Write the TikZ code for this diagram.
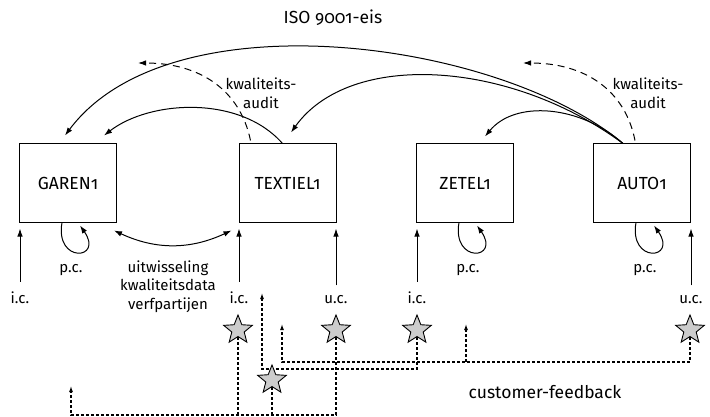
\documentclass[tikz,border=0pt]{standalone}
\usepackage{fontspec}
\setmainfont[Numbers = OldStyle]{Fira Sans}
\usepackage{tikz}
\usetikzlibrary{shapes, arrows.meta}
\usetikzlibrary{positioning, backgrounds}
\tikzstyle{box} = [rectangle, minimum width = 97, minimum height = 78, draw =
  black, line width = 1, text centered, font = \fontsize{17.5}{21}\selectfont]
\tikzstyle{lbl} = [inner sep = 0, font = \fontsize{15}{18.5}\selectfont]
\tikzstyle{fbstar} = [
  star, star points = 5, star point ratio = 2.3,
  minimum size = 30, inner sep = 0,
  draw = black, line width = 0.9, fill = gray!40
]
\tikzstyle{fb} = [dash pattern = on 3pt off 2pt, line width = 1.1,
  >={Latex[length = 6pt, width = 4pt]}]
\tikzstyle{audit} = [dash pattern = on 7pt off 5pt, line width = 1]

\begin{document}
\begin{tikzpicture}[x = 1pt, y = -1pt, node distance = 0, line width = 1,
    >={Latex[length = 8pt, width = 5.5pt]}]
      \useasboundingbox (0, 0) rectangle (710, 417);

      % the four parties
      \node [box] (box-garen) at (68, 183) {GAREN1};
      \node [box, right of = box-garen, xshift = 219.5] (box-textiel) {TEXTIEL1};
      \node [box, right of = box-textiel, xshift = 177.5] (box-zetel) {ZETEL1};
      \node [box, right of = box-zetel, xshift = 177] (box-auto) {AUTO1};

      \node [font = \fontsize{17.5}{21}\selectfont] (iso) at (333, 18) {ISO 9001-eis};

      % requirements passed down the chain
      \draw [->] ([xshift = -5]box-textiel.north) .. controls (240, 95) and (150, 100) ..
      ([xshift = 36, yshift = 8]box-garen.north);
      \draw [->] ([xshift = -19]box-auto.north) .. controls (500, 40) and (170, -5) ..
      ([xshift = -3, yshift = 8]box-garen.north);
      \draw [->] ([xshift = -19]box-auto.north) .. controls (510, 60) and (350, 50) ..
      ([xshift = 3.5, yshift = 11]box-textiel.north);
      \draw [->] ([xshift = -19]box-auto.north) .. controls (580, 105) and (515, 100) ..
      ([xshift = 20, yshift = 7]box-zetel.north);

      % audits
      \coordinate (audit-ti) at (138, 63);
      \coordinate (audit-au) at (523, 63);
      \draw [audit, ->] ([xshift = -37, yshift = 3]box-textiel.north) .. controls
      (240, 90) and (200, 63) .. (audit-ti);
      \draw [audit, ->] ([xshift = -7, yshift = 3]box-auto.north) .. controls
      (625, 90) and (585, 63) .. (audit-au);
      \node [lbl, align = center] (audit-lbl-ti) at (261, 93) {kwaliteits-\\audit};
      \node [lbl, align = center] (audit-lbl-au) at (648, 93) {kwaliteits-\\audit};

      % incoming and outgoing control
      \node [lbl, anchor = base] (ic-garen) at (20, 303) {i.c.};
      \node [lbl, anchor = base] (ic-textiel) at (239, 303) {i.c.};
      \node [lbl, anchor = base] (uc-textiel) at (336, 303) {u.c.};
      \node [lbl, anchor = base] (ic-zetel) at (417, 303) {i.c.};
      \node [lbl, anchor = base] (uc-auto) at (691, 303) {u.c.};
      \draw [->] ([yshift = 9]ic-garen.north) -- ([yshift = -6]ic-garen |- box-garen.south);
      \draw [->] ([yshift = 9]ic-textiel.north) -- ([yshift = -6]ic-textiel |- box-textiel.south);
      \draw [->] ([yshift = 9]uc-textiel.north) -- ([yshift = -6]uc-textiel |- box-textiel.south);
      \draw [->] ([yshift = 9]ic-zetel.north) -- ([yshift = -6]ic-zetel |- box-zetel.south);
      \draw [->] ([yshift = 9]uc-auto.north) -- ([yshift = -6]uc-auto |- box-auto.south);

      % process control
      \foreach \b in {garen, zetel, auto} {
        \draw [->] ([xshift = -6]box-\b.south) to [out = -100, in = -55, distance = 42]
        ([xshift = 12, yshift = -3]box-\b.south);
        \node [lbl, anchor = base] (pc-\b) at ([xshift = 3, yshift = -50]box-\b.south) {p.c.};
      }

      % exchange between the paint suppliers
      \draw [<->] ([xshift = -3, yshift = -8]box-garen.south east) to [bend right = 25]
      ([xshift = -7, yshift = -8]box-textiel.south west);
      \node [lbl, align = center, anchor = north] (uitw) at (168, 260)
      {uitwisseling\\kwaliteitsdata\\verfpartijen};

      % customer feedback
      \node [fbstar] (star-ti-ic) at (238, 330) {};
      \node [fbstar] (star-ti-uc) at (336, 330) {};
      \node [fbstar] (star-ze-ic) at (417, 330) {};
      \node [fbstar] (star-au-uc) at (690, 330) {};
      \node [fbstar] (star-mid) at (272, 380) {};
      \node [font = \fontsize{17.5}{21}\selectfont] (feedback) at (545, 392) {customer-feedback};

      \coordinate (tip-garen) at (71, 386);
      \coordinate (tip-ti-a) at (262, 293);
      \coordinate (tip-ti-b) at (282, 324);
      \coordinate (tip-ze) at (466, 324);
      \coordinate (fb-low) at (71, 415);
      \coordinate (fb-mid) at (262, 369);
      \coordinate (fb-high) at (282, 362);
      \begin{scope}[on background layer]
        \draw [fb, ->] (star-ti-uc) |- (fb-low) -- (tip-garen);
        \draw [fb] (star-ti-ic) -- (star-ti-ic |- fb-low);
        \draw [fb] (star-mid) -- (star-mid |- fb-low);
        \draw [fb, ->] (star-ze-ic) |- (fb-mid) -- (tip-ti-a);
        \draw [fb, ->] (star-au-uc) |- (fb-high) -- (tip-ti-b);
        \draw [fb, ->] (tip-ze |- fb-high) -- (tip-ze);
      \end{scope}
    \end{tikzpicture}
\end{document}
